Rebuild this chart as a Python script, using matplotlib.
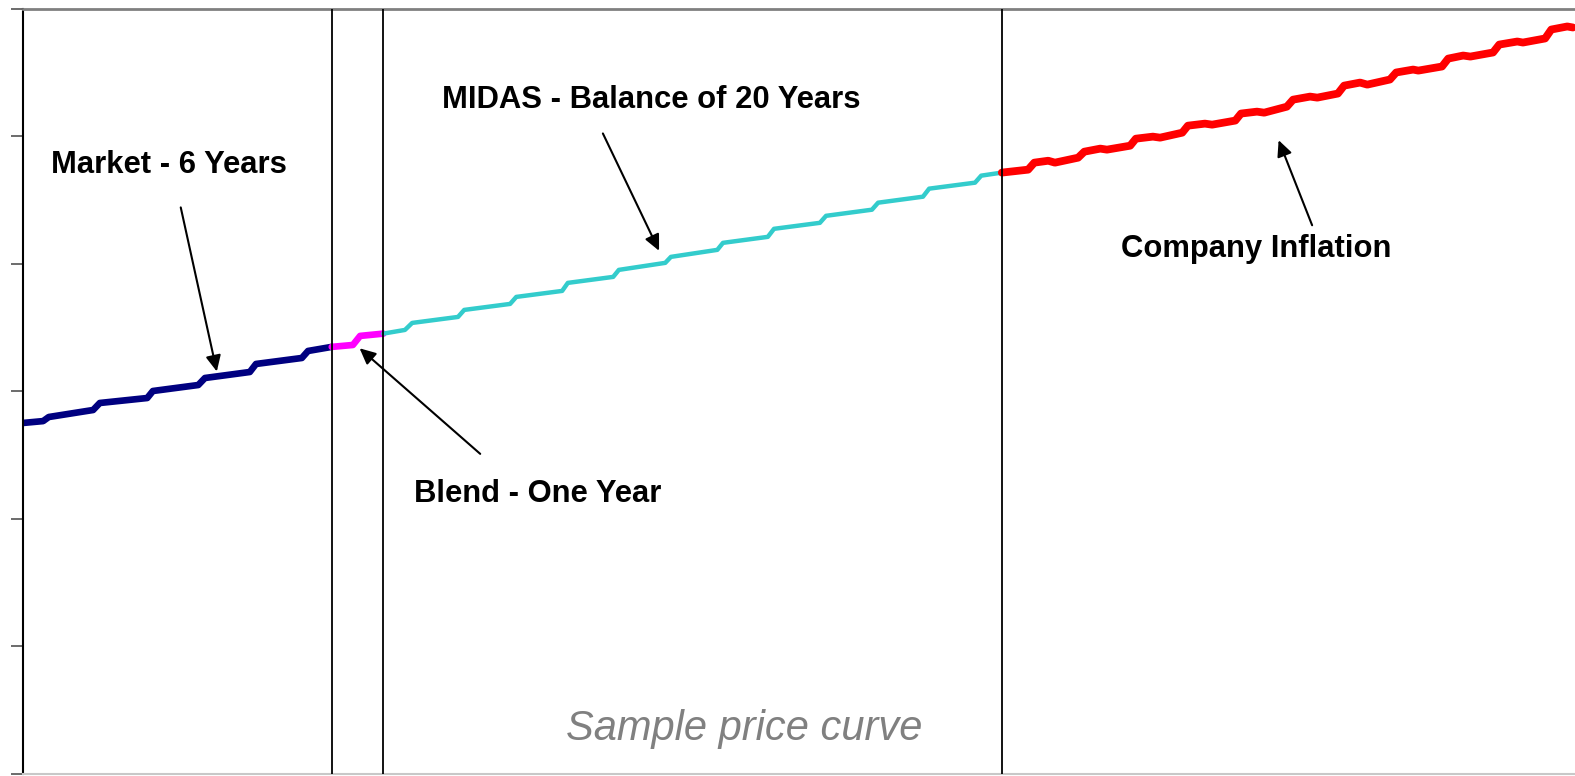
import matplotlib
import matplotlib.pyplot as plt

matplotlib.use('Agg')

# price curve (x = years, y = price level, arbitrary units)
market_t = [0, 0.40, 0.51, 1.37, 1.50, 2.42, 2.53, 3.41, 3.54, 4.41, 4.53, 5.42, 5.54, 6.00]
market_v = [2.749, 2.764, 2.796, 2.851, 2.906, 2.945, 3.000, 3.047, 3.102, 3.149, 3.212, 3.259, 3.314, 3.346]

blend_t = [6.00, 6.41, 6.55, 7.00]
blend_v = [3.346, 3.361, 3.432, 3.450]

midas_t = [7.00, 7.42, 7.56, 8.45, 8.57, 9.46, 9.58, 10.47, 10.58, 11.46, 11.57, 12.47, 12.58,
           13.48, 13.59, 14.46, 14.58, 15.47, 15.59, 16.48, 16.60, 17.47, 17.59, 18.48, 18.60, 19.00]
midas_v = [3.450, 3.479, 3.534, 3.581, 3.636, 3.683, 3.738, 3.785, 3.848, 3.895, 3.950, 4.005, 4.052,
           4.107, 4.162, 4.209, 4.272, 4.319, 4.374, 4.422, 4.477, 4.524, 4.587, 4.634, 4.689, 4.713]

infl_t = [19.00, 19.51, 19.63, 19.90, 20.03, 20.48, 20.60, 20.91, 21.04, 21.49, 21.60, 21.93, 22.07,
          22.50, 22.61, 22.94, 23.08, 23.53, 23.64, 23.95, 24.09, 24.53, 24.65, 24.98, 25.12,
          25.52, 25.64, 25.95, 26.09, 26.53, 26.65, 26.98, 27.08, 27.54, 27.66, 27.95, 28.09,
          28.53, 28.65, 29.00, 29.11, 29.54, 29.66, 29.97, 30.08]
infl_v = [4.713, 4.736, 4.791, 4.806, 4.791, 4.830, 4.877, 4.901, 4.893, 4.924, 4.979, 4.995, 4.987,
          5.026, 5.081, 5.097, 5.089, 5.121, 5.176, 5.191, 5.183, 5.230, 5.285, 5.309, 5.301,
          5.333, 5.395, 5.419, 5.403, 5.443, 5.498, 5.521, 5.513, 5.545, 5.607, 5.631, 5.623,
          5.655, 5.717, 5.741, 5.733, 5.765, 5.835, 5.859, 5.851]

boundaries = [6, 7, 19]
y_ticks = [0, 1, 2, 3, 4, 5, 6]

plt.rcParams['font.family'] = ['Liberation Sans', 'DejaVu Sans']

fig = plt.figure(figsize=(15.75, 7.76), dpi=100)
ax = fig.add_axes([22.5/1575, 2.5/776, (1575-22.5)/1575, (773.5-8.5)/776])

line_kw = dict(solid_capstyle="round", solid_joinstyle="round")
ax.plot(market_t, market_v, color="#000080", lw=4.8, **line_kw)
ax.plot(blend_t, blend_v, color="#FF00FF", lw=4.8, **line_kw)
ax.plot(midas_t, midas_v, color="#33CCCC", lw=3.2, **line_kw)
ax.plot(infl_t, infl_v, color="#FF0000", lw=5.6, **line_kw)

for b in boundaries:
    ax.axvline(b, color="black", lw=1.3, zorder=3)

ax.set_xlim(0, 30.12)
ax.set_ylim(0, 6)
ax.set_xticks([])
ax.set_yticks(y_ticks)
ax.set_yticklabels([])
ax.tick_params(axis="y", direction="out", length=8.5, width=1.3, color="#606060")

ax.spines["right"].set_visible(False)
ax.spines["left"].set_color("black")
ax.spines["left"].set_linewidth(1.5)
ax.spines["top"].set_color("#808080")
ax.spines["top"].set_linewidth(2)
ax.spines["bottom"].set_color("#c8c8c8")
ax.spines["bottom"].set_linewidth(1.5)

arrow = dict(arrowstyle="-|>,head_length=0.8,head_width=0.38", color="black", lw=1.5,
             mutation_scale=12, shrinkA=0, shrinkB=0)

ax.annotate("", xy=(3.77, 3.153), xytext=(3.07, 4.44), arrowprops=arrow)
ax.annotate("", xy=(12.35, 4.10), xytext=(11.26, 5.02), arrowprops=arrow)
ax.annotate("", xy=(6.54, 3.335), xytext=(8.88, 2.507), arrowprops=arrow)
ax.annotate("", xy=(24.37, 4.967), xytext=(25.02, 4.30), arrowprops=arrow)

ax.text(2.84, 4.77, "Market - 6 Years", fontsize=22.3, fontweight="bold", ha="center", va="center")
ax.text(12.19, 5.28, "MIDAS - Balance of 20 Years", fontsize=22.3, fontweight="bold", ha="center", va="center")
ax.text(9.99, 2.19, "Blend - One Year", fontsize=22.3, fontweight="bold", ha="center", va="center")
ax.text(23.93, 4.115, "Company Inflation", fontsize=22.3, fontweight="bold", ha="center", va="center")
ax.text(14.01, 0.35, "Sample price curve", fontsize=30, style="italic", color="#808080",
        ha="center", va="center")

fig.savefig("out.png", dpi=100)
